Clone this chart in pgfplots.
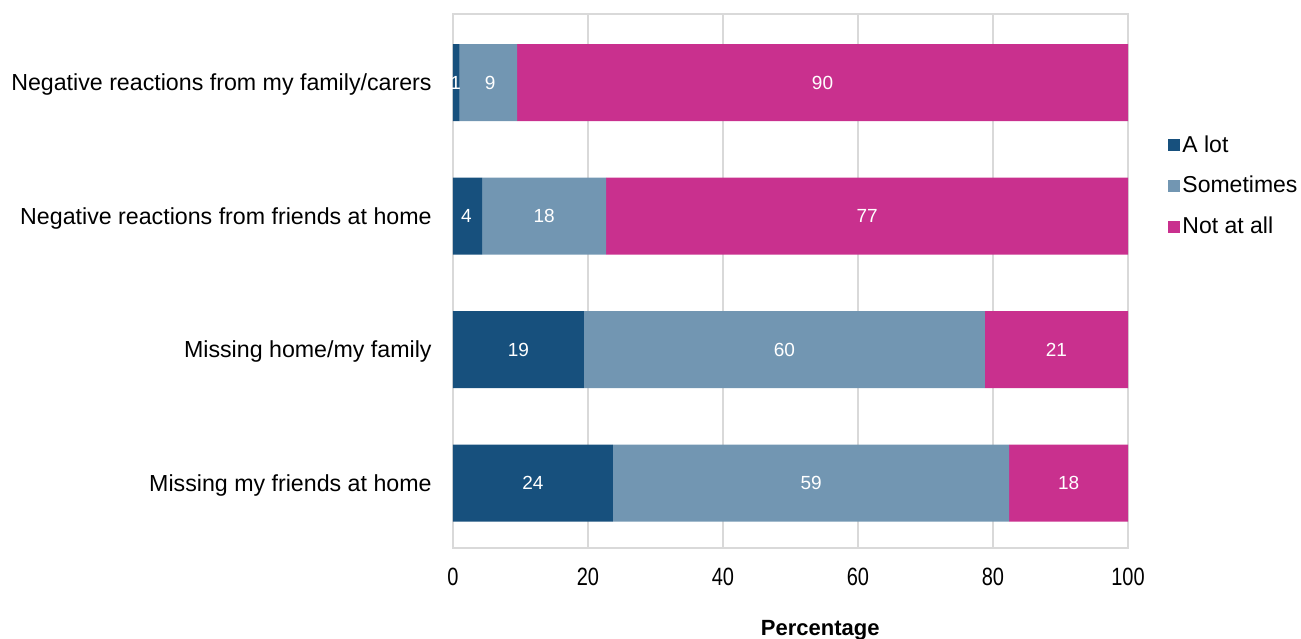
\documentclass[border=0pt]{standalone}
\usepackage{fontspec}
\setmainfont{Liberation Sans}
\newfontfamily\narrowfont[FakeStretch=0.8]{Liberation Sans}
\usepackage{pgfplots}
\pgfplotsset{compat=1.18}
\definecolor{alot}{RGB}{23,80,125}
\definecolor{sometimes}{RGB}{114,150,178}
\definecolor{notatall}{RGB}{201,48,142}
\definecolor{gridgray}{RGB}{217,217,217}

\pgfplotstableread{
y x
0 23.7
1 19.4
2 4.3
3 1.0
}\alot
\pgfplotstableread{
y x
0 58.7
1 59.4
2 18.4
3 8.5
}\sometimes
\pgfplotstableread{
y x
0 17.6
1 21.2
2 77.3
3 90.5
}\notatall
\pgfplotstableread{
x y lab
11.85 0 24
53.05 0 59
91.2 0 18
9.7 1 19
49.1 1 60
89.4 1 21
2.0 2 4
13.5 2 18
61.35 2 77
0.4 3 1
5.5 3 9
54.75 3 90
}\labels

\begin{document}
\begin{tikzpicture}
\begin{axis}[name=main,
  xbar stacked,
  scale only axis, width=337.5pt, height=267pt,
  xmin=0, xmax=100, ymin=-0.485, ymax=3.515,
  bar width=38.5pt,
  xtick={0,20,40,60,80,100},
  ytick={0,1,2,3},
  yticklabels={Missing my friends at home, Missing home/my family, Negative reactions from friends at home\hspace{4pt}, Negative reactions from my family/carers},
  xmajorgrids, grid style={gridgray, line width=0.8pt},
  axis line style={gridgray, line width=0.8pt},
  major tick length=0pt,
  /pgf/number format/assume math mode=true,
  xticklabel style={font=\narrowfont\fontsize{12.5}{14}\selectfont, anchor=base, yshift=-19pt},
  yticklabel style={font=\fontsize{11.6}{13}\selectfont, anchor=base east, inner sep=0pt, xshift=-10.5pt, yshift=-4pt},
  xlabel={Percentage},
  xlabel style={at={(axis description cs:0.544,0)}, anchor=base, yshift=-44pt, font=\bfseries\fontsize{11}{13}\selectfont},
  legend style={draw=none, fill=none, inner sep=0pt, at={(1.0593,0.678)}, anchor=west,
    font=\fontsize{11.5}{13}\selectfont, row sep=8.5pt,
    nodes={inner sep=1pt}},
  legend cell align=left,
  legend image code/.code={\fill[#1] (0pt,-3pt) rectangle (6pt,3pt);},
]
\addplot[fill=alot, draw=none] table[x=x,y=y] {\alot};
\addplot[fill=sometimes, draw=none] table[x=x,y=y] {\sometimes};
\addplot[fill=notatall, draw=none] table[x=x,y=y] {\notatall};
\legend{A lot, Sometimes, Not at all}
\end{axis}
\begin{axis}[
  scale only axis, width=337.5pt, height=267pt,
  xmin=0, xmax=100, ymin=-0.485, ymax=3.515, hide axis,
]
\addplot[draw=none, mark=none, nodes near coords, point meta=explicit symbolic,
  nodes near coords style={text=white, anchor=center, font=\fontsize{9.5}{11}\selectfont}]
  table[x=x, y=y, meta=lab] {\labels};
\end{axis}
\pgfresetboundingbox
\useasboundingbox ([shift={(-226.5pt,-45.5pt)}]main.south west) rectangle ([shift={(86.5pt,7pt)}]main.north east);
\end{tikzpicture}
\end{document}
